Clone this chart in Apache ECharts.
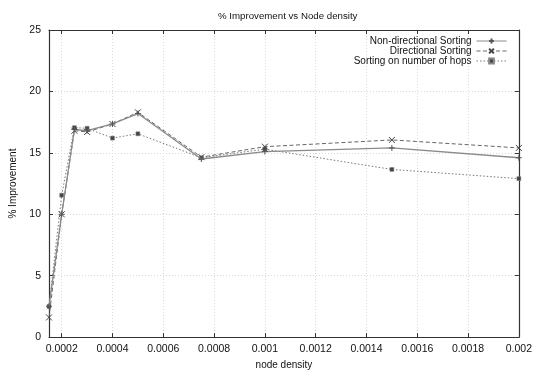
<!DOCTYPE html>
<html>
<head>
<meta charset="utf-8">
<script src="https://cdn.jsdelivr.net/npm/echarts@6/dist/echarts.min.js"></script>
<style>
  html, body { margin: 0; padding: 0; background: #fff; }
  #chart { width: 535px; height: 375px; }
</style>
</head>
<body>
<div id="chart"></div>
<script>
// Node densities sampled
const densities = [0.00015, 0.0002, 0.00025, 0.0003, 0.0004, 0.0005, 0.00075, 0.001, 0.0015, 0.002];
// % improvement for each sorting strategy
const nonDirectional = [2.5, 10.0, 16.9, 16.8, 17.35, 18.2, 14.5, 15.1, 15.4, 14.6];
const directional = [1.6, 10.0, 16.8, 16.7, 17.35, 18.3, 14.65, 15.5, 16.05, 15.4];
const hopsSorting = [2.5, 11.55, 17.05, 17.0, 16.2, 16.55, 14.6, 15.3, 13.65, 12.9];
// Axis tick values
const xTicks = [0.0002, 0.0004, 0.0006, 0.0008, 0.001, 0.0012, 0.0014, 0.0016, 0.0018, 0.002];
const seriesNames = ['Non-directional Sorting', 'Directional Sorting', 'Sorting on number of hops'];

const FONT = 'Liberation Sans, Arial, sans-serif';
const AXIS_COLOR = '#333';
const pairs = ys => densities.map((x, i) => [x, ys[i]]);

const chart = echarts.init(document.getElementById('chart'), null, { renderer: 'canvas' });

const axisLine = { show: true, onZero: false, lineStyle: { color: AXIS_COLOR, width: 1.2 } };
const tickStyle = { show: true, inside: true, length: 4, lineStyle: { color: AXIS_COLOR, width: 1 } };
const gridLine = { show: true, lineStyle: { color: '#dadada', type: [1, 2], width: 1 } };

const legendAt = (name, top) => ({
  data: [name], orient: 'vertical', right: 28, top: top, align: 'right',
  itemWidth: 30, itemHeight: 6, padding: 0,
  lineStyle: { width: 1 },
  textStyle: { fontFamily: FONT, fontSize: 10, color: '#111' }
});

chart.setOption({
  animation: false,
  backgroundColor: '#fff',
  title: {
    text: '% Improvement vs Node density', left: 213, top: 6,
    textStyle: { fontFamily: FONT, fontSize: 9.7, fontWeight: 'normal', color: '#111' }
  },
  legend: [legendAt(seriesNames[0], 36), legendAt(seriesNames[1], 46), legendAt(seriesNames[2], 56)],
  grid: { left: 49, right: 16, top: 30, bottom: 33 },
  xAxis: [{
    type: 'value', min: 0.00015, max: 0.002,
    name: 'node density', nameLocation: 'middle', nameGap: 22,
    nameTextStyle: { fontFamily: FONT, fontSize: 10, color: '#111' },
    axisLine: axisLine,
    axisTick: Object.assign({ customValues: xTicks }, tickStyle),
    axisLabel: { customValues: xTicks, fontFamily: FONT, fontSize: 10.5, color: '#111', margin: 7,
      formatter: v => String(+v.toFixed(5)) },
    splitLine: gridLine
  }, {
    type: 'value', min: 0.00015, max: 0.002, position: 'top',
    axisLine: axisLine,
    axisTick: Object.assign({ customValues: xTicks }, tickStyle),
    axisLabel: { show: false, customValues: xTicks },
    splitLine: { show: false }
  }],
  yAxis: [{
    type: 'value', min: 0, max: 25, interval: 5,
    name: '% Improvement', nameLocation: 'middle', nameGap: 31,
    nameTextStyle: { fontFamily: FONT, fontSize: 10, color: '#111' },
    axisLine: axisLine,
    axisTick: tickStyle,
    axisLabel: { fontFamily: FONT, fontSize: 10.5, color: '#111', margin: 8 },
    splitLine: gridLine
  }, {
    type: 'value', min: 0, max: 25, interval: 5, position: 'right',
    axisLine: axisLine,
    axisTick: tickStyle,
    axisLabel: { show: false },
    splitLine: { show: false }
  }],
  series: [{
    name: seriesNames[0], type: 'line', data: pairs(nonDirectional),
    symbol: 'path://M0,5L10,5M5,0L5,10', symbolSize: 6,
    itemStyle: { color: 'none', borderColor: '#555', borderWidth: 1 },
    lineStyle: { color: '#8a8a8a', width: 1.3, type: 'solid' },
    z: 3
  }, {
    name: seriesNames[1], type: 'line', data: pairs(directional),
    symbol: 'path://M0,0L10,10M10,0L0,10', symbolSize: 6,
    itemStyle: { color: 'none', borderColor: '#444', borderWidth: 1 },
    lineStyle: { color: '#666', width: 1, type: [4, 2.5] },
    z: 2
  }, {
    name: seriesNames[2], type: 'line', data: pairs(hopsSorting),
    symbol: 'rect', symbolSize: 4,
    itemStyle: { color: '#444', borderColor: '#888', borderWidth: 0.5 },
    lineStyle: { color: '#777', width: 1, type: [1.5, 2] },
    z: 1
  }]
});
</script>
</body>
</html>
